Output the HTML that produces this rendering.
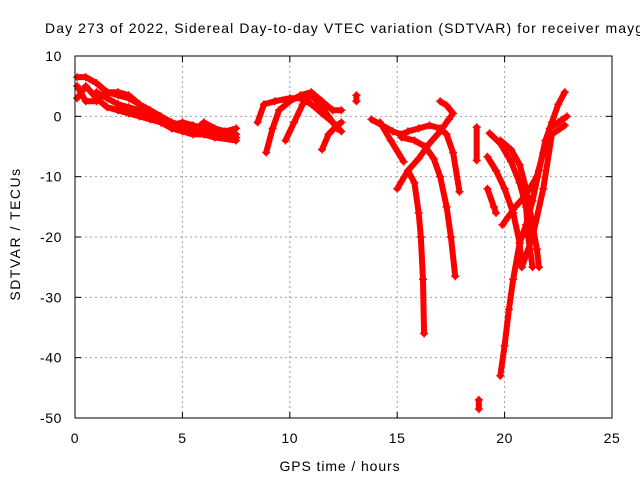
<!DOCTYPE html>
<html><head><meta charset="utf-8"><style>
html,body{margin:0;padding:0;background:#fff;overflow:hidden}
svg{display:block;font-family:"Liberation Sans",sans-serif}
</style></head><body>
<svg id="chart" width="640" height="480">
<text x="45" y="33" font-size="14" letter-spacing="1.1">Day 273 of 2022, Sidereal Day-to-day VTEC variation (SDTVAR) for receiver maygz</text>
<text transform="translate(20,234) rotate(-90)" text-anchor="middle" font-size="14" letter-spacing="1.5">SDTVAR / TECUs</text>
<text x="340" y="471" text-anchor="middle" font-size="14" letter-spacing="0.9">GPS time / hours</text>
<g id="grid"></g><g id="ticks"></g><g id="marks"></g>
<rect x="75" y="56" width="537" height="362" fill="none" stroke="#000" stroke-width="1"/>
</svg>
<script>
const xTicks=[0,5,10,15,20,25];
const yTicks=[-50,-40,-30,-20,-10,0,10];
const track1=[[0.1,6.5],[0.5,6.5],[1,5.5],[1.5,4],[2,3.5],[2.5,3],[3,2],[3.5,1],[4,0],[4.5,-1],[5,-1.5],[5.5,-2],[6,-2.5],[6.5,-2.5],[7,-3],[7.5,-3.5]];
const track2=[[0.1,3],[0.5,5],[1,3],[1.5,1.5],[2,1],[2.5,0.5],[3,0],[3.5,-0.5],[4,-1],[4.5,-1.5],[5,-1],[5.5,-1.5],[6,-2],[6.5,-3],[7,-3],[7.5,-3]];
const track3=[[0.1,5],[0.5,2.5],[1,2.5],[1.5,4],[2,4],[2.5,3.5],[3,2],[3.5,0.5],[4,-0.5],[4.5,-2],[5,-2],[5.5,-2.5],[6,-1],[6.5,-2],[7,-2.5],[7.5,-2]];
const track4=[[1,4],[1.5,3],[2,2],[2.5,1.5],[3,1],[3.5,0],[4,-1],[4.5,-2],[5,-2.5],[5.5,-3],[6,-3],[6.5,-3.5],[7.5,-4]];
const track5=[[8.9,-6],[9.2,-2],[9.5,1],[10,2.5],[10.5,3.5],[11,4],[11.5,2.5],[12,1],[12.4,1]];
const track6=[[8.5,-1],[8.8,2],[9.3,2.5],[10,3],[10.5,3],[11,2],[11.5,0.5],[12,-1],[12.4,-2.5]];
const track7=[[9.8,-4],[10.2,-1],[10.6,2],[11,3.5],[11.4,2],[11.8,0],[12.2,-2]];
const track8=[[11.5,-5.5],[11.8,-3],[12.2,-1.5],[12.4,-1]];
const track9=[[13.1,3.5],[13.1,2.5]];
const track10=[[13.8,-0.5],[14.3,-1.5],[14.8,-2.5],[15.2,-3],[15.5,-2.5],[16,-2],[16.5,-1.5],[17,-2],[17.3,-3],[17.6,-6],[17.9,-12.5]];
const track11=[[15.0,-12],[15.5,-9],[15.8,-11],[16.0,-16],[16.1,-20],[16.2,-27],[16.25,-36]];
const track12=[[15.5,-9],[16.0,-7],[16.5,-4.5],[17,-2.5],[17.4,-0.5],[17.6,0.5],[17.3,1.8],[17.0,2.5]];
const track13=[[15.2,-3.5],[15.8,-4],[16.3,-5],[16.7,-7],[17.0,-10],[17.3,-15],[17.5,-20],[17.7,-26.5]];
const track14=[[14.2,-1],[14.7,-4],[15.3,-7.5]];
const track15=[[18.8,-47],[18.8,-48.5]];
const track16=[[18.7,-1.8],[18.7,-7.3]];
const track17=[[19.3,-2.8],[19.8,-4.5],[20.3,-7.5],[20.7,-11],[21.0,-15],[21.1,-20],[21.3,-25]];
const track18=[[19.8,-4],[20.3,-5.5],[20.7,-8],[21.0,-12],[21.3,-18],[21.5,-22],[21.6,-25]];
const track19=[[19.2,-6.7],[19.6,-9],[20,-12],[20.4,-16],[20.7,-21],[20.8,-25]];
const track20=[[19.2,-12],[19.5,-15],[19.6,-16]];
const track21=[[19.8,-43],[20.0,-38],[20.2,-32],[20.4,-27],[20.7,-21],[21.0,-18],[21.3,-14],[21.6,-9],[21.9,-4],[22.2,-1],[22.5,2],[22.8,4]];
const track22=[[19.9,-18],[20.5,-15],[21,-13],[21.5,-10],[21.8,-6],[22.1,-2],[22.5,-1],[22.9,0]];
const track23=[[20.8,-25],[21.3,-20],[21.8,-12],[22.2,-3],[22.8,-1.5]];
const tracks=[track1,track2,track3,track4,track5,track6,track7,track8,track9,track10,track11,track12,track13,track14,track15,track16,track17,track18,track19,track20,track21,track22,track23];
const NS='http://www.w3.org/2000/svg';
const X0=75,X1=612,Y0=418,Y1=56,xmin=0,xmax=25,ymin=-50,ymax=10;
function sx(v){return X0+(v-xmin)/(xmax-xmin)*(X1-X0);}
function sy(v){return Y0-(v-ymin)/(ymax-ymin)*(Y0-Y1);}
const grid=document.getElementById('grid'),ticks=document.getElementById('ticks'),marks=document.getElementById('marks');
function mk(tag,attrs,parent){const e=document.createElementNS(NS,tag);for(const k in attrs)e.setAttribute(k,attrs[k]);parent.appendChild(e);return e;}
xTicks.forEach(t=>{const x=sx(t);
 if(t>xmin&&t<xmax){const g=mk('line',{x1:x,x2:x,y1:Y0,y2:Y1,stroke:'#a0a0a0','stroke-dasharray':'2,3'},grid);
 
 }
 mk('line',{x1:x,x2:x,y1:Y0,y2:Y0-6,stroke:'#000'},ticks);mk('line',{x1:x,x2:x,y1:Y1,y2:Y1+6,stroke:'#000'},ticks);
 const l=mk('text',{x:x,y:443,'text-anchor':'middle','font-size':'14','letter-spacing':'0.6'},ticks);l.textContent=t;
 
 });
yTicks.forEach(t=>{const y=sy(t);
 if(t>ymin&&t<ymax){const g=mk('line',{x1:X0,x2:X1,y1:y,y2:y,stroke:'#a0a0a0','stroke-dasharray':'2,3'},grid);
 
 }
 mk('line',{x1:X0,x2:X0+6,y1:y,y2:y,stroke:'#000'},ticks);mk('line',{x1:X1,x2:X1-6,y1:y,y2:y,stroke:'#000'},ticks);
 const l=mk('text',{x:62,y:y+5,'text-anchor':'end','font-size':'14','letter-spacing':'0.6'},ticks);l.textContent=t;
 
 });
tracks.forEach((tr,i)=>{
 const g=mk('g',{},marks);
 
 
 mk('polyline',{points:tr.map(p=>sx(p[0])+','+sy(p[1])).join(' '),fill:'none',stroke:'#ff0000','stroke-width':6,'stroke-linecap':'round','stroke-linejoin':'round'},g);
 tr.forEach(p=>{const x=sx(p[0]),y=sy(p[1]);
  const m=mk('path',{d:`M${x-4},${y}H${x+4}M${x},${y-4}V${y+4}`,stroke:'#ff0000','stroke-width':1.5},g);
  
  });
});
</script>
</body></html>
